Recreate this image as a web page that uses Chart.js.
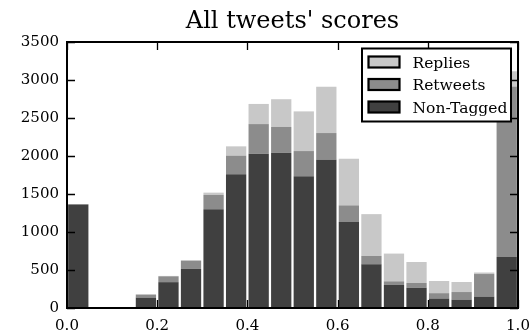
<!DOCTYPE html>
<html>
<head>
<meta charset="utf-8">
<script src="https://cdn.jsdelivr.net/npm/chart.js@4/dist/chart.umd.min.js"></script>
<style>
  html, body { margin: 0; padding: 0; background: #fff; }
  #wrap { width: 532px; height: 334px; position: relative; }
</style>
</head>
<body>
<div id="wrap"><canvas id="c" width="532" height="334"></canvas></div>
<script>
// Histogram bins (centres, width 0.05) and per-bin tweet counts
const binCenters = [0.025, 0.075, 0.125, 0.175, 0.225, 0.275, 0.325, 0.375, 0.425, 0.475,
                    0.525, 0.575, 0.625, 0.675, 0.725, 0.775, 0.825, 0.875, 0.925, 0.975];
const nonTagged = [1362, 0, 0, 137, 340, 515, 1300, 1760, 2030, 2040,
                   1735, 1950, 1130, 575, 305, 265, 125, 110, 150, 670];
const retweets  = [3, 0, 0, 39, 77, 108, 188, 245, 390, 342,
                   330, 352, 220, 110, 46, 64, 70, 100, 297, 2245];
const replies   = [3, 0, 0, 5, 5, 5, 30, 122, 265, 365,
                   522, 610, 615, 550, 365, 276, 160, 132, 20, 200];
const yTicks = [0, 500, 1000, 1500, 2000, 2500, 3000, 3500];
const xTicks = [0.0, 0.2, 0.4, 0.6, 0.8, 1.0];
const chartTitle = "All tweets' scores";

const FONT = "'DejaVu Serif', 'Liberation Serif', serif";

function series(values) {
  return binCenters.map((x, i) => ({ x: x, y: values[i] }));
}

// Title over the plot area, black frame, inward tick marks and a boxed legend
const framePlugin = {
  id: 'frame',
  afterDatasetsDraw(chart) {
    const ctx = chart.ctx;
    const a = chart.chartArea;
    const xs = chart.scales.x, ys = chart.scales.y;
    ctx.save();

    ctx.fillStyle = '#000';
    ctx.font = '24px ' + FONT;
    ctx.textAlign = 'center';
    ctx.textBaseline = 'alphabetic';
    ctx.fillText(chartTitle, (a.left + a.right) / 2, 28);

    ctx.strokeStyle = '#000';
    ctx.lineWidth = 1.3;
    const tl = 8;
    ctx.beginPath();
    xTicks.forEach(v => {
      const px = Math.round(xs.getPixelForValue(v)) + 0.5;
      ctx.moveTo(px, a.bottom); ctx.lineTo(px, a.bottom - tl);
      ctx.moveTo(px, a.top); ctx.lineTo(px, a.top + tl);
    });
    yTicks.forEach(v => {
      const py = Math.round(ys.getPixelForValue(v)) + 0.5;
      ctx.moveTo(a.left, py); ctx.lineTo(a.left + tl, py);
      ctx.moveTo(a.right, py); ctx.lineTo(a.right - tl, py);
    });
    ctx.stroke();
    ctx.lineWidth = 2;
    ctx.strokeRect(a.left, a.top, a.right - a.left, a.bottom - a.top);

    // legend box in the upper right
    const box = { l: 362, t: 48.5, r: 511, b: 121.5 };
    ctx.fillStyle = '#fff';
    ctx.fillRect(box.l, box.t, box.r - box.l, box.b - box.t);
    ctx.lineWidth = 2;
    ctx.strokeRect(box.l, box.t, box.r - box.l, box.b - box.t);
    const items = chart.data.datasets.slice().reverse();
    ctx.font = '15.5px ' + FONT;
    ctx.textBaseline = 'alphabetic';
    ctx.textAlign = 'left';
    items.forEach((ds, i) => {
      const cy = 62 + i * 22.5;
      ctx.fillStyle = ds.backgroundColor;
      ctx.fillRect(368.5, cy - 5.5, 31, 11);
      ctx.lineWidth = 2.2;
      ctx.strokeStyle = '#000';
      ctx.strokeRect(368.5, cy - 5.5, 31, 11);
      ctx.fillStyle = '#000';
      ctx.fillText(ds.label, 412.5, cy + 5.5);
    });
    ctx.restore();
  }
};

new Chart(document.getElementById('c'), {
  type: 'bar',
  data: {
    datasets: [
      { label: 'Non-Tagged', data: series(nonTagged), backgroundColor: '#404040' },
      { label: 'Retweets',   data: series(retweets),  backgroundColor: '#8c8c8c' },
      { label: 'Replies',    data: series(replies),   backgroundColor: '#c8c8c8' }
    ]
  },
  options: {
    responsive: false,
    animation: false,
    devicePixelRatio: 1,
    layout: { padding: { left: 0, right: 14, top: 42, bottom: 0 } },
    datasets: { bar: { categoryPercentage: 1.0, barPercentage: 0.9, borderWidth: 0 } },
    plugins: {
      legend: { display: false },
      tooltip: { enabled: false },
      title: { display: false }
    },
    scales: {
      x: {
        type: 'linear',
        stacked: true,
        min: 0, max: 1,
        offset: false,
        afterFit(s) { s.height = 26; s.paddingLeft = 0; s.paddingRight = 0; },
        afterBuildTicks(s) { s.ticks = xTicks.map(v => ({ value: v })); },
        grid: { display: false, drawTicks: false },
        border: { display: false },
        ticks: {
          color: '#000',
          padding: 9,
          maxRotation: 0,
          font: { family: FONT, size: 15 },
          callback: v => Number(v).toFixed(1)
        }
      },
      y: {
        stacked: true,
        min: 0, max: 3500,
        afterFit(s) { s.width = 67; s.paddingTop = 0; s.paddingBottom = 0; },
        afterBuildTicks(s) { s.ticks = yTicks.map(v => ({ value: v })); },
        grid: { display: false, drawTicks: false },
        border: { display: false },
        ticks: {
          color: '#000',
          padding: 8,
          font: { family: FONT, size: 15 },
          callback: v => String(v)
        }
      }
    }
  },
  plugins: [framePlugin]
});
</script>
</body>
</html>
